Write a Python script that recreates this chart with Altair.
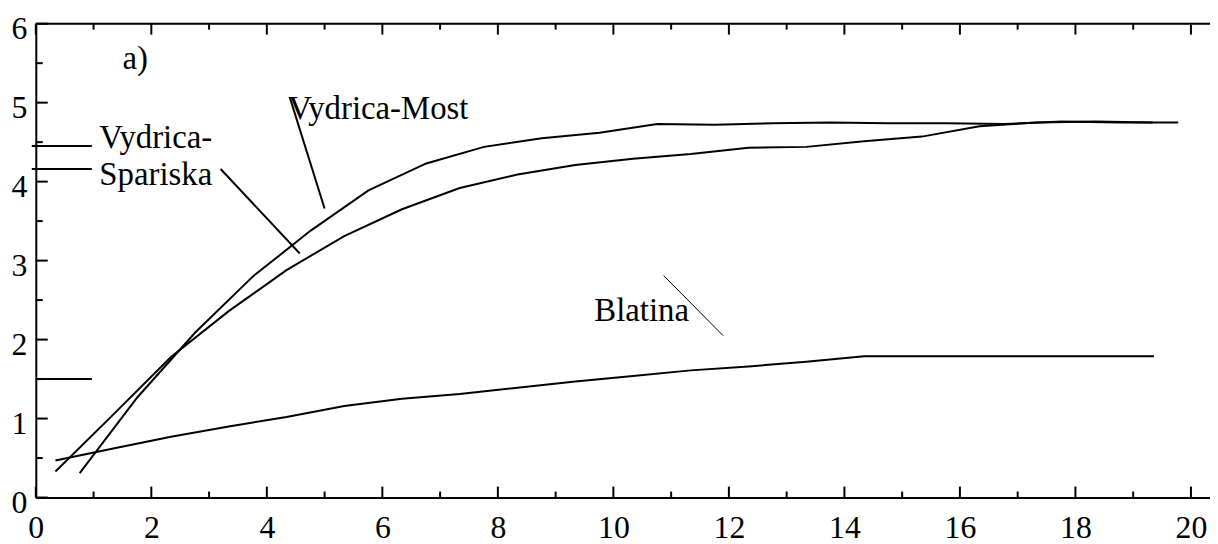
import altair as alt
import pandas as pd

# ---- data ----
most_x = [0.76, 1.76, 2.76, 3.76, 4.76, 5.76, 6.76, 7.76, 8.76, 9.76, 10.76, 11.76, 12.76, 13.76, 14.76, 15.76, 16.76, 17.76, 18.76, 19.78]
most_y = [0.31, 1.27, 2.09, 2.80, 3.38, 3.89, 4.23, 4.44, 4.55, 4.62, 4.73, 4.72, 4.74, 4.75, 4.74, 4.74, 4.73, 4.76, 4.75, 4.75]

spar_x = [0.34, 1.34, 2.34, 3.34, 4.34, 5.34, 6.34, 7.34, 8.34, 9.34, 10.34, 11.34, 12.34, 13.34, 14.34, 15.34, 16.34, 17.34, 18.34, 19.34]
spar_y = [0.33, 1.05, 1.78, 2.36, 2.88, 3.31, 3.65, 3.92, 4.09, 4.21, 4.29, 4.35, 4.43, 4.44, 4.51, 4.57, 4.70, 4.75, 4.76, 4.75]

blat_x = [0.34, 1.34, 2.34, 3.34, 4.34, 5.34, 6.34, 7.34, 8.34, 9.34, 10.34, 11.34, 12.34, 13.34, 14.34, 15.34, 16.34, 17.34, 18.34, 19.36]
blat_y = [0.47, 0.62, 0.77, 0.90, 1.02, 1.16, 1.25, 1.31, 1.39, 1.47, 1.54, 1.61, 1.66, 1.72, 1.79, 1.79, 1.79, 1.79, 1.79, 1.79]

x_major = [0, 2, 4, 6, 8, 10, 12, 14, 16, 18, 20]
x_minor = [1, 3, 5, 7, 9, 11, 13, 15, 17, 19]
y_major = [0, 1, 2, 3, 4, 5, 6]
y_minor = [0.5, 1.5, 2.5, 3.5, 4.5, 5.5]

# annotation texts
ann_text = ["a)", "Vydrica-", "Spariska", "Vydrica-Most", "Blatina"]
ann_x = [1.50, 1.10, 1.10, 4.37, 9.67]
ann_y = [5.43, 4.43, 3.96, 4.79, 2.23]

# leader / key lines (thick)
seg_x = [3.20, 4.40, -0.07, -0.07, 0.00]
seg_y = [4.16, 5.06, 4.45, 4.16, 1.50]
seg_x2 = [4.57, 5.00, 0.97, 0.97, 0.97]
seg_y2 = [3.09, 3.66, 4.45, 4.16, 1.50]
# thin leader for Blatina
thin_x = [10.87]
thin_y = [2.81]
thin_x2 = [11.90]
thin_y2 = [2.05]

W, H = 1182, 477
XMAX = 20.33
FONT = "Liberation Serif"
FS = 32
FS_ANN = 33

series = pd.concat([
    pd.DataFrame({"x": most_x, "y": most_y, "s": "Vydrica-Most"}),
    pd.DataFrame({"x": spar_x, "y": spar_y, "s": "Vydrica-Spariska"}),
    pd.DataFrame({"x": blat_x, "y": blat_y, "s": "Blatina"}),
])

xs = alt.Scale(domain=[0, XMAX], nice=False, zero=False)
ys = alt.Scale(domain=[0, 6], nice=False, zero=False)

xaxis = alt.Axis(values=x_major, format="d", grid=False, ticks=False, domain=True, domainColor="black",
                 domainWidth=2, labelFont=FONT, labelFontSize=FS, labelColor="black",
                 labelBaseline="alphabetic", labelPadding=40, title=None, labelFlush=False,
                 labelOverlap=False)
yaxis = alt.Axis(values=y_major, format="d", grid=False, ticks=False, domain=True, domainColor="black",
                 domainWidth=2, labelFont=FONT, labelFontSize=FS, labelColor="black",
                 labelBaseline="alphabetic", labelOffset=15, labelPadding=9, labelAlign="right",
                 title=None, labelFlush=False, labelOverlap=False)

lines = alt.Chart(series).mark_line(color="black", strokeWidth=2).encode(
    x=alt.X("x:Q", scale=xs, axis=xaxis),
    y=alt.Y("y:Q", scale=ys, axis=yaxis),
    detail="s:N",
    order="x:Q",
)

def rules_x(vals, y0, y1):
    return alt.Chart(pd.DataFrame({"v": vals})).mark_rule(color="black", strokeWidth=2).encode(
        x=alt.X("v:Q", scale=xs), y=alt.value(y0), y2=alt.value(y1))

def rules_y(vals, x0, x1):
    return alt.Chart(pd.DataFrame({"v": vals})).mark_rule(color="black", strokeWidth=2).encode(
        y=alt.Y("v:Q", scale=ys), x=alt.value(x0), x2=alt.value(x1))

top_line = alt.Chart(pd.DataFrame({"v": [0]})).mark_rule(color="black", strokeWidth=2).encode(
    x=alt.value(0), x2=alt.value(W), y=alt.value(0))

ticks = [
    rules_x(x_major, H, H - 11), rules_x(x_minor, H, H - 6),
    rules_x(x_major, 0, 11), rules_x(x_minor, 0, 6),
    rules_y(y_major, 0, 12), rules_y(y_minor, 0, 7),
]

segs = alt.Chart(pd.DataFrame({"x": seg_x, "y": seg_y, "x2": seg_x2, "y2": seg_y2})).mark_rule(
    color="black", strokeWidth=2).encode(
    x=alt.X("x:Q", scale=xs), y=alt.Y("y:Q", scale=ys), x2="x2:Q", y2="y2:Q")

thin = alt.Chart(pd.DataFrame({"x": thin_x, "y": thin_y, "x2": thin_x2, "y2": thin_y2})).mark_rule(
    color="black", strokeWidth=1).encode(
    x=alt.X("x:Q", scale=xs), y=alt.Y("y:Q", scale=ys), x2="x2:Q", y2="y2:Q")

texts = alt.Chart(pd.DataFrame({"t": ann_text, "x": ann_x, "y": ann_y})).mark_text(
    align="left", baseline="alphabetic", font=FONT, fontSize=FS_ANN, color="black").encode(
    x=alt.X("x:Q", scale=xs), y=alt.Y("y:Q", scale=ys), text="t:N")

chart = alt.layer(lines, top_line, *ticks, segs, thin, texts).properties(
    width=W, height=H,
    autosize=alt.AutoSizeParams(type="none"),
    padding={"left": 28, "top": 14, "right": 0, "bottom": 45},
).configure_view(stroke=None).configure(background="white")

chart.save("out.html", embed_options={"renderer": "svg", "actions": False})
